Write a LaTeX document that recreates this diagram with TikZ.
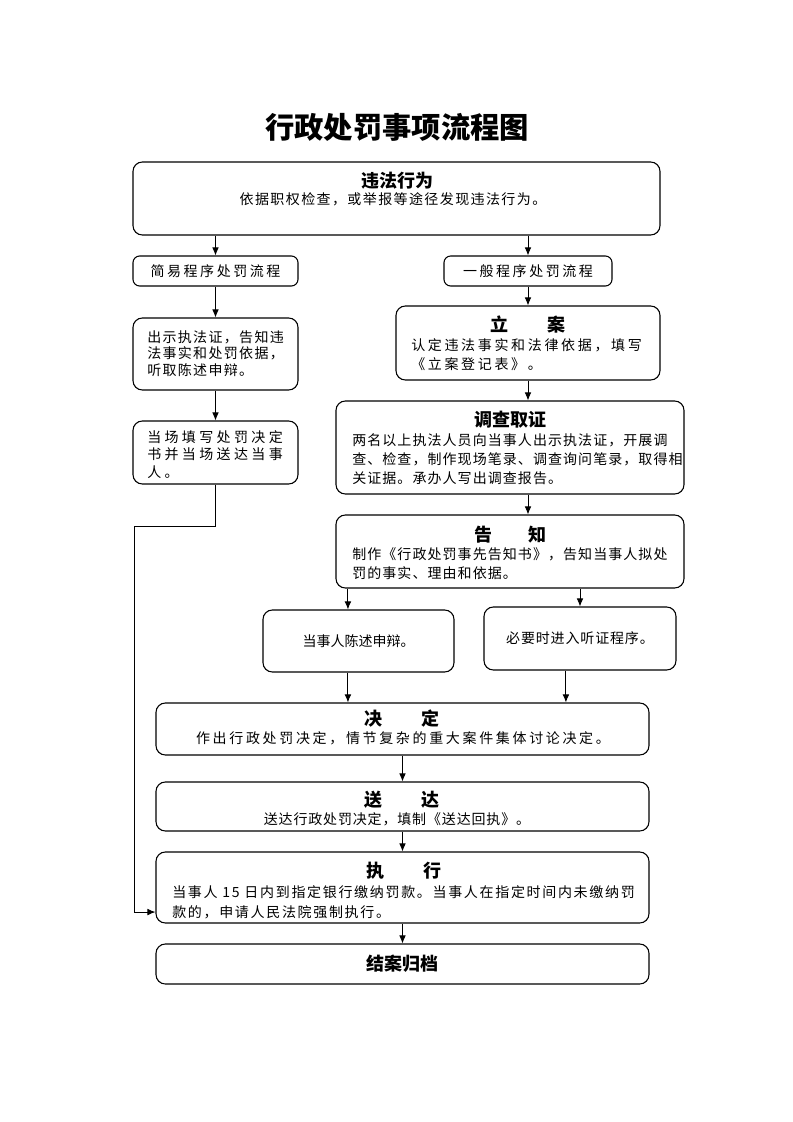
\documentclass[tikz,border=0pt]{standalone}
\usepackage{fontspec}
\setmainfont{Noto Sans CJK SC}
\newfontfamily\bodyfont{Noto Sans CJK SC}
\usetikzlibrary{arrows.meta,calc}

\def\bodylead{14.25pt}
\tikzset{
  box/.style={rectangle,rounded corners=7pt,draw=black,line width=0.8pt,inner sep=0pt},
  head/.style={inner sep=0pt,font=\bfseries\fontsize{13.5}{16}\selectfont},
  lead/.code={\def\bodylead{#1}},
  body/.style={inner sep=0pt,align=left,font=\bodyfont\addfontfeature{LetterSpace=#1}\fontsize{10.5}{\bodylead}\selectfont},
  body/.default=8,
  flow/.style={-{Latex[length=6pt,width=5pt]},line width=0.7pt},
}

\begin{document}
\begin{tikzpicture}[x=0.75pt,y=-0.75pt]
        \useasboundingbox (0,0) rectangle (793,1122);
        \node (ttl) [font=\bfseries\fontsize{22}{26}\selectfont] at (397,127) {行政处罚事项流程图};

        % top
        \node (top) [box, minimum width=395.25pt, minimum height=54.75pt] at (396.5,198.5) {};
        \node (topH) [head] at (397,181) {违法行为};
        \node (topT) [body=10] at (393,199) {依据职权检查，或举报等途径发现违法行为。};

        % simple procedure (left)
        \node (easy) [box, rounded corners=5pt, minimum width=123.75pt, minimum height=22.5pt, body=18] at (215.5,271) {简易程序处罚流程};
        \node (show) [box, minimum width=123.75pt, minimum height=54pt] at (215.5,354) {};
        \node (showT) [lead=12.4pt, body=9.5, anchor=west] at (147,353.5) {出示执法证，告知违\\法事实和处罚依据，\\听取陈述申辩。};
        \node (spot) [box, minimum width=123.75pt, minimum height=47.25pt] at (215.5,452.5) {};
        \node (spotT) [lead=13.1pt, body=24, anchor=west] at (147,454.5) {当场填写处罚决定\\书并当场送达当事\\人。};

        % general procedure (right)
        \node (gen) [box, rounded corners=5pt, minimum width=126pt, minimum height=22.5pt, body=18] at (528,271) {一般程序处罚流程};
        \node (file) [box, minimum width=198pt, minimum height=55.5pt] at (528,343) {};
        \node (fileH) [head] at (528,325) {立\hspace{2.2em}案};
        \node (fileT) [body=19, anchor=west] at (411,354.5) {认定违法事实和法律依据，填写\\《立案登记表》。};
        \node (probe) [box, minimum width=261pt, minimum height=69.75pt] at (510,447.5) {};
        \node (probeH) [head] at (510,420) {调查取证};
        \node (probeT) [body=7.6, anchor=west] at (352,459) {两名以上执法人员向当事人出示执法证，开展调\\查、检查，制作现场笔录、调查询问笔录，取得相\\关证据。承办人写出调查报告。};
        \node (notice) [box, minimum width=261pt, minimum height=54.75pt] at (510,551.5) {};
        \node (noticeH) [head] at (510,535) {告\hspace{2em}知};
        \node (noticeT) [body=7.6, anchor=west] at (352,564) {制作《行政处罚事先告知书》，告知当事人拟处\\罚的事实、理由和依据。};
        \node (plea) [box, minimum width=143.25pt, minimum height=46.5pt, body=0] at (358.5,641) {当事人陈述申辩。};
        \node (hear) [box, minimum width=144pt, minimum height=47.25pt, body=6] at (580,638.5) {必要时进入听证程序。};

        % common steps
        \node (decide) [box, minimum width=369.75pt, minimum height=39pt] at (402.5,729) {};
        \node (decideH) [head] at (402,719) {决\hspace{2.2em}定};
        \node (decideT) [body=19] at (403,738) {作出行政处罚决定，情节复杂的重大案件集体讨论决定。};
        \node (serve) [box, minimum width=369.75pt, minimum height=36.75pt] at (402.5,806.5) {};
        \node (serveH) [head] at (402,800) {送\hspace{2.2em}达};
        \node (serveT) [body=6] at (397,819) {送达行政处罚决定，填制《送达回执》。};
        \node (exec) [box, minimum width=369.75pt, minimum height=53.25pt] at (402.5,887.5) {};
        \node (execH) [head] at (404,871) {执\hspace{2.2em}行};
        \node (execT) [lead=15pt, body=12, anchor=west] at (172,902) {当事人 15 日内到指定银行缴纳罚款。当事人在指定时间内未缴纳罚\\款的，申请人民法院强制执行。};
        \node (close) [box, minimum width=369.75pt, minimum height=30pt, head] at (402.5,964) {结案归档};

        % connectors
        \draw [flow] (top.south -| easy.north) -- (easy.north);
        \draw [flow] (top.south -| gen.north) -- (gen.north);
        \draw [flow] (easy) -- (show);
        \draw [flow] (show) -- (spot);
        \draw [flow] (gen) -- (file);
        \draw [flow] (file.south) -- (file.south |- probe.north);
        \draw [flow] (file.south |- probe.south) -- (file.south |- notice.north);
        \coordinate (pIn) at ($(plea.north west)!0.445!(plea.north east)$);
        \coordinate (pOut) at ($(plea.south west)!0.445!(plea.south east)$);
        \coordinate (hOut) at ($(hear.south west)!0.427!(hear.south east)$);
        \draw [flow] (pIn |- notice.south) -- (pIn);
        \draw [flow] (notice.south -| hear.north) -- (hear.north);
        \draw [flow] (pOut) -- (pOut |- decide.north);
        \draw [flow] (hOut) -- (hOut |- decide.north);
        \draw [flow] (decide) -- (serve);
        \draw [flow] (serve) -- (exec);
        \draw [flow] (exec) -- (close);
        \coordinate (back) at (134,526);
        \draw [flow] (spot.south) |- (back) |- ([yshift=-18.4pt]exec.west);
\end{tikzpicture}
\end{document}
